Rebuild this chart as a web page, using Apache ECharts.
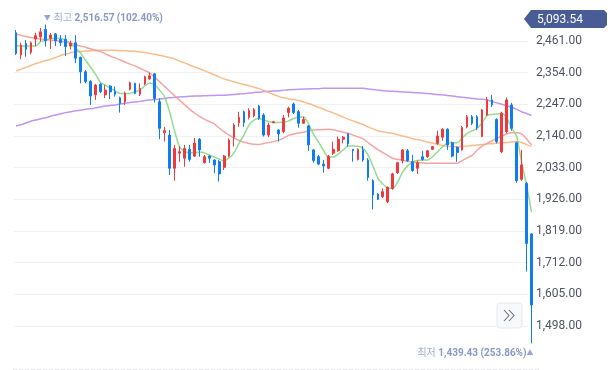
<!DOCTYPE html>
<html><head><meta charset="utf-8">
<script src="https://cdn.jsdelivr.net/npm/echarts@6/dist/echarts.min.js"></script>
<style>html,body{margin:0;padding:0;background:#fff}#c{width:613px;height:370px}</style>
</head><body><div id="c"></div>
<script>
// [open, close, low, high]
const candles = [
[2489,2419,2414,2498],[2414,2447,2399,2455],[2453,2433,2408,2464],[2423,2455,2416,2459],[2468,2479,2444,2489],
[2475,2492,2459,2505],[2500,2462,2442,2516.57],[2470,2481,2434,2488],[2485,2462,2444,2488],[2467,2455,2444,2481],
[2467,2442,2410,2481],[2444,2453,2433,2462],[2455,2403,2386,2481],[2406,2357,2318,2408],[2357,2324,2318,2363],
[2324,2275,2245,2329],[2279,2312,2262,2316],[2315,2290,2285,2319],[2279,2295,2268,2312],[2309,2289,2265,2312],
[2290,2281,2273,2307],[2269,2250,2219,2273],[2256,2284,2245,2290],[2298,2320,2294,2324],[2318,2284,2281,2320],
[2281,2301,2275,2318],[2316,2340,2312,2344],[2333,2343,2329,2354],[2350,2267,2253,2352],[2256,2166,2129,2267],
[2151,2158,2121,2171],[2143,2031,2008,2160],[2031,2098,1989,2110],[2082,2087,2053,2106],[2065,2098,2036,2110],
[2095,2061,2053,2110],[2072,2116,2069,2133],[2129,2093,2070,2133],[2050,2070,2047,2076],[2072,2065,2049,2076],
[2059,2042,2014,2061],[2053,2012,1986,2059],[2034,2072,2025,2076],[2072,2126,2068,2132],[2136,2177,2104,2183],
[2185,2203,2171,2222],[2222,2185,2171,2226],[2203,2226,2196,2234],[2208,2230,2203,2234],[2241,2200,2194,2245],
[2211,2143,2138,2217],[2143,2177,2136,2185],[2185,2188,2183,2191],[2160,2147,2121,2163],[2155,2201,2149,2211],
[2219,2234,2203,2239],[2248,2219,2214,2253],[2222,2183,2168,2228],[2183,2196,2181,2205],[2174,2110,2090,2177],
[2093,2057,2050,2095],[2070,2045,2042,2076],[2045,2039,2016,2059],[2031,2072,2028,2076],[2082,2095,2076,2121],
[2090,2129,2087,2138],[2129,2136,2115,2140],[2147,2113,2104,2149],[2095,2090,2053,2096],[2061,2095,2057,2098],
[2093,2059,2053,2106],[2059,2000,1989,2065],[1989,1941,1892,1994],[1944,1926,1924,1947],[1935,1952,1930,1963],
[1918,1967,1913,1969],[1963,2012,1958,2016],[2016,2050,2012,2053],[2057,2093,2047,2095],[2090,2057,2052,2096],
[2053,2023,2019,2076],[2031,2050,2012,2057],[2070,2061,2057,2090],[2070,2090,2066,2093],[2095,2104,2093,2106],
[2115,2140,2110,2158],[2136,2163,2124,2166],[2163,2110,2093,2166],[2117,2072,2068,2121],[2102,2084,2053,2104],
[2093,2169,2090,2174],[2171,2205,2166,2211],[2205,2183,2177,2211],[2205,2169,2160,2211],[2138,2228,2136,2231],
[2211,2262,2208,2272],[2262,2245,2238,2279],[2196,2121,2115,2200],[2087,2217,2082,2222],[2155,2262,2149,2270],
[2245,2166,2158,2252],[2117,1989,1982,2121],[1994,2042,1989,2093],[1980,1777,1682,1985],[1809,1569,1439.43,1812]
];
const ma5 = [2446,2444,2444,2444,2444,2459,2464,2469,2470,2470,2463,2453,2437,2421,2397,2373,2350,2322,2312,2302,
2292,2284,2284,2284,2289,2295,2309,2319,2312,2295,2272,2221,2157,2103,2089,2083,2083,2086,2083,2076,
2069,2062,2056,2066,2083,2116,2143,2177,2194,2199,2194,2189,2186,2186,2187,2191,2199,2203,2205,2181,
2147,2120,2093,2069,2069,2079,2093,2106,2106,2105,2099,2076,2039,1998,1978,1964,1963,1985,2018,2039,
2052,2057,2059,2059,2069,2086,2103,2116,2117,2117,2133,2149,2157,2165,2184,2209,2213,2214,2216,2201,
2167,2140,2052,1974,1883];
const ma20 = [2484,2480,2476,2473,2470,2468,2466,2464,2462,2460,2458,2454,2449,2444,2440,2435,2430,2425,2418,2410,
2404,2397,2390,2383,2377,2369,2361,2353,2338,2323,2307,2292,2276,2261,2246,2231,2218,2206,2197,2189,
2181,2167,2154,2143,2133,2125,2119,2115,2112,2111,2115,2118,2121,2126,2133,2142,2147,2150,2153,2157,
2160,2161,2162,2163,2161,2157,2153,2149,2143,2137,2130,2118,2106,2094,2084,2074,2065,2061,2058,2055,
2052,2050,2049,2048,2048,2048,2048,2048,2048,2048,2057,2066,2074,2091,2106,2115,2123,2132,2140,2147,
2151,2151,2147,2130,2110];
const ma60 = [2360,2366,2372,2378,2385,2390,2395,2399,2405,2412,2417,2421,2425,2426,2427,2428,2429,2430,2430,2430,
2429,2429,2428,2427,2426,2424,2422,2419,2416,2413,2409,2405,2400,2393,2387,2380,2373,2367,2361,2354,
2347,2339,2333,2328,2323,2318,2314,2310,2305,2300,2294,2287,2280,2274,2269,2266,2263,2260,2255,2250,
2244,2237,2231,2224,2218,2211,2204,2197,2191,2185,2179,2171,2164,2158,2154,2151,2149,2144,2140,2136,
2131,2128,2124,2120,2116,2112,2108,2105,2104,2104,2105,2106,2108,2110,2111,2113,2114,2116,2117,2118,
2120,2121,2118,2111,2105];
const ma120 = [2174,2178,2184,2190,2194,2198,2202,2207,2211,2215,2219,2222,2225,2227,2230,2232,2235,2238,2241,2243,
2245,2248,2251,2253,2255,2257,2260,2262,2263,2265,2267,2269,2271,2272,2273,2274,2275,2275,2276,2277,
2277,2278,2278,2279,2280,2282,2283,2285,2287,2288,2290,2291,2292,2293,2295,2296,2297,2298,2299,2299,
2300,2300,2301,2301,2301,2301,2301,2301,2301,2301,2301,2299,2297,2295,2293,2292,2291,2290,2289,2288,
2287,2286,2285,2284,2282,2280,2279,2277,2275,2273,2271,2269,2267,2265,2264,2262,2257,2252,2247,2242,
2237,2230,2222,2216,2209];
const yTicks = [1498,1605,1712,1819,1926,2033,2140,2247,2354,2461];
const highInfo = {index: 6, value: 2516.57, pct: '102.40%'};
const lowInfo = {index: 104, value: 1439.43, pct: '253.86%'};
const currentPrice = '5,093.54';
const categories = candles.map((_, i) => String(i + 1));

const UP = '#ee3a3f', DOWN = '#0f7cf2';
const fmt = v => v.toLocaleString('en-US', {minimumFractionDigits: 2, maximumFractionDigits: 2});
const FONT = "Roboto, 'Noto Sans CJK KR', sans-serif";
const yMin = yTicks[0], yMax = yTicks[yTicks.length - 1], yInt = yTicks[1] - yTicks[0];

const chart = echarts.init(document.getElementById('c'), null, {renderer: 'canvas'});
const maLine = (data, color) => ({
  type: 'line', xAxisIndex: 1, yAxisIndex: 1, data, showSymbol: false, symbol: 'none',
  smooth: 0.25, clip: false, silent: true,
  lineStyle: {color, width: 1.5, opacity: 0.9}, z: 3
});
const richStyles = {
  t: {color: '#7f8ec4', fontSize: 7, fontFamily: FONT, padding: [0, 3, 0, 0]},
  a: {color: '#8a97c8', fontSize: 10, fontFamily: FONT},
  b: {color: '#6c7dbb', fontSize: 10, fontWeight: 'bold', fontFamily: FONT}
};
chart.setOption({
  animation: false,
  grid: [
    {left: 14, right: 85, top: 41, bottom: 44},
    {left: 13.5, right: 79, top: 41, bottom: 44}
  ],
  xAxis: [
    {type: 'category', gridIndex: 0, data: categories, show: false},
    {type: 'category', gridIndex: 1, data: categories, show: false, boundaryGap: true}
  ],
  yAxis: [
    {type: 'value', gridIndex: 0, position: 'right', min: yMin, max: yMax, interval: yInt,
      axisLine: {show: false}, axisTick: {show: false},
      splitLine: {lineStyle: {color: '#f0f1f3', width: 1}},
      axisLabel: {margin: 8, color: '#4e5460', fontSize: 12, fontFamily: FONT, formatter: v => fmt(v)}},
    {type: 'value', gridIndex: 1, min: yMin, max: yMax, show: false, splitLine: {show: false}}
  ],
  series: [
    maLine(ma120, '#b98af3'),
    maLine(ma60, '#fbb57e'),
    maLine(ma20, '#f59a98'),
    maLine(ma5, '#86d982'),
    {
      type: 'candlestick', xAxisIndex: 1, yAxisIndex: 1, data: candles, barWidth: 2.2, clip: false, z: 4,
      itemStyle: {color: UP, color0: DOWN, borderColor: UP, borderColor0: DOWN, borderWidth: 1}
    },
    {
      type: 'scatter', xAxisIndex: 1, yAxisIndex: 1, clip: false, silent: true, z: 6,
      symbol: 'circle', symbolSize: 1, itemStyle: {color: 'rgba(0,0,0,0)'},
      data: [
        {value: [highInfo.index, highInfo.value],
          label: {show: true, position: 'inside', align: 'left', verticalAlign: 'middle', offset: [-2, -6.5],
            formatter: '{t|▼}{a|최고 }{b|' + fmt(highInfo.value) + ' (' + highInfo.pct + ')}',
            rich: richStyles}},
        {value: [lowInfo.index, lowInfo.value],
          label: {show: true, position: 'inside', align: 'right', verticalAlign: 'middle', offset: [2, 10],
            formatter: '{a|최저 }{b|' + fmt(lowInfo.value) + ' (' + lowInfo.pct + ')}{t2|▲}',
            rich: Object.assign({t2: {color: '#7f8ec4', fontSize: 7, fontFamily: FONT}}, richStyles)}}
      ]
    }
  ],
  graphic: [
    {type: 'polygon', shape: {points: [[524, 19], [531, 10], [604, 10], [607, 13], [607, 25], [604, 28], [531, 28]]},
      style: {fill: '#4a5c96'}, z: 10},
    {type: 'text', x: 537, y: 19.5, style: {text: currentPrice, fill: '#ffffff', fontSize: 12, fontFamily: FONT,
      verticalAlign: 'middle', align: 'left'}, z: 11},
    {type: 'rect', shape: {x: 497, y: 303, width: 25, height: 25, r: 3},
      style: {fill: '#f8f9fb', stroke: '#e6e8ec', lineWidth: 1}, z: 10},
    {type: 'polyline', shape: {points: [[504, 310], [509, 315.5], [504, 321]]},
      style: {stroke: '#6b7280', lineWidth: 1.1, fill: null}, z: 11},
    {type: 'polyline', shape: {points: [[509, 310], [514, 315.5], [509, 321]]},
      style: {stroke: '#6b7280', lineWidth: 1.1, fill: null}, z: 11},
    {type: 'line', shape: {x1: 13, y1: 369.5, x2: 540, y2: 369.5},
      style: {stroke: '#e3e5e8', lineWidth: 1, lineDash: [4, 2]}, z: 1}
  ]
});
</script></body></html>
